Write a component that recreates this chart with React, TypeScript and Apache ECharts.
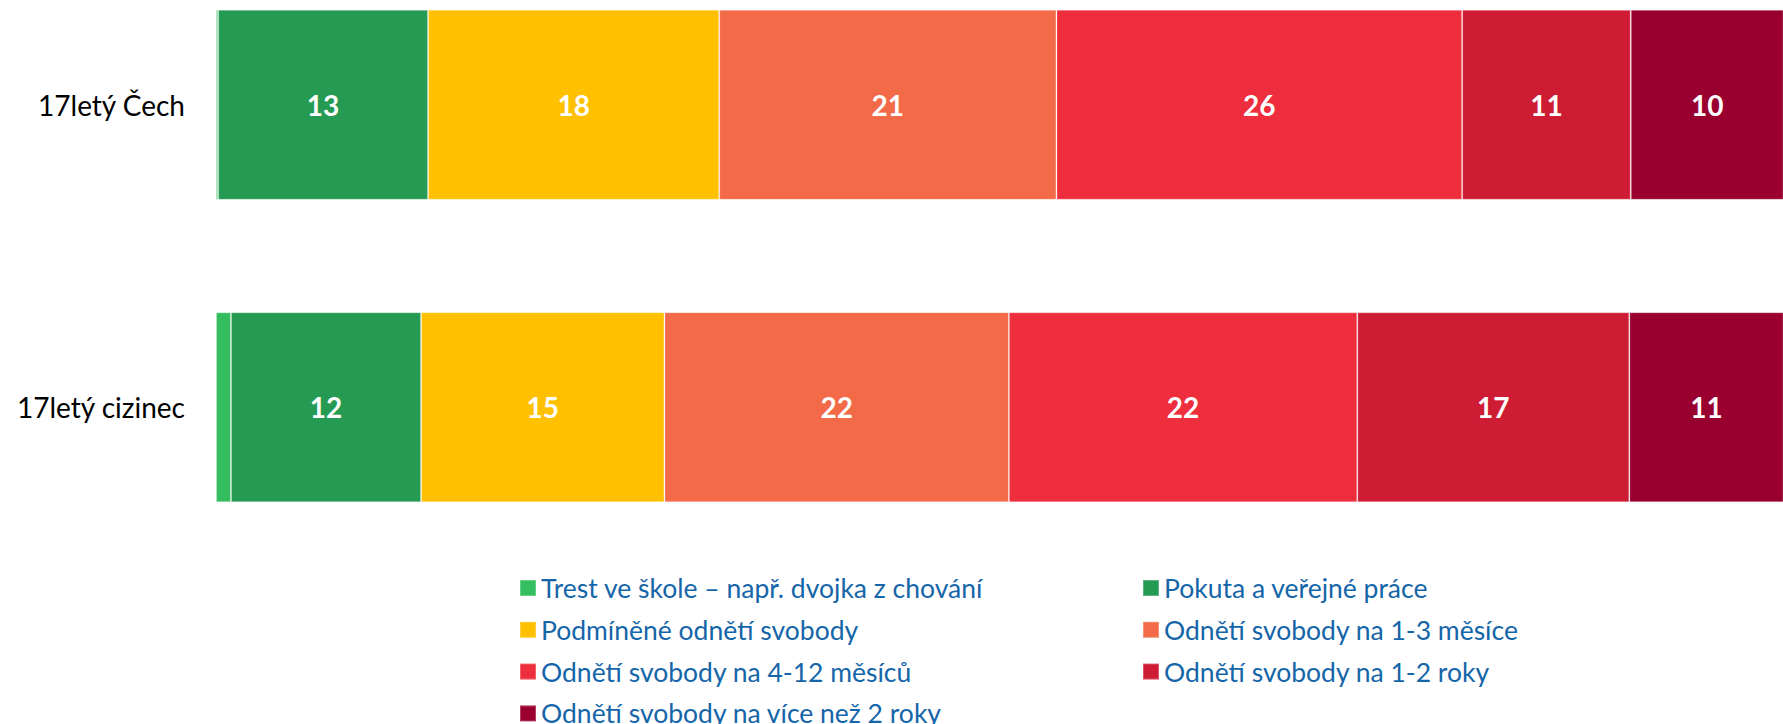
import React, { useEffect, useRef } from "react";
import * as echarts from "echarts";

const categories = ["17letý Čech", "17letý cizinec"];

const seriesNames = [
  "Trest ve škole – např. dvojka z chování",
  "Pokuta a veřejné práce",
  "Podmíněné odnětí svobody",
  "Odnětí svobody na 1-3 měsíce",
  "Odnětí svobody na 4-12 měsíců",
  "Odnětí svobody na 1-2 roky",
  "Odnětí svobody na více než 2 roky",
];

const seriesColors = ["#35BE5F", "#259A52", "#FFC000", "#F26A48", "#EE2E3C", "#CE1C34", "#990030"];

// percent values [17letý Čech, 17letý cizinec]
const trestVeSkole = [0.13, 0.94];
const pokuta = [13.2, 11.95];
const podminene = [18.3, 15.3];
const odneti13m = [21.2, 21.65];
const odneti412m = [25.5, 21.9];
const odneti12r = [10.6, 17.1];
const odnetiVice2r = [10.3, 11.1];

const seriesValues = [trestVeSkole, pokuta, podminene, odneti13m, odneti412m, odneti12r, odnetiVice2r];
const showLabels = [false, true, true, true, true, true, true];

const leftLegend = [seriesNames[0], seriesNames[2], seriesNames[4], seriesNames[6]];
const rightLegend = [seriesNames[1], seriesNames[3], seriesNames[5]];

export default function App() {
  const ref = useRef<HTMLDivElement>(null);
  useEffect(() => {
    if (!ref.current) return;
    const chart = echarts.init(ref.current, undefined, { renderer: "svg" });
    const legendCommon = {
      orient: "vertical" as const,
      icon: "rect",
      itemWidth: 16,
      itemHeight: 16,
      itemGap: 14.8,
      padding: 0,
      height: 200,
      selectedMode: false,
      textStyle: { fontFamily: "Lato", fontSize: 26.5, color: "#1565A9", lineHeight: 24 },
    };
    chart.setOption({
      animation: false,
      backgroundColor: "#ffffff",
      grid: { left: 216, right: 0, top: -46.5, height: 605, containLabel: false, outerBoundsMode: "none" },
      xAxis: { type: "value", min: 0, max: 98.5, show: false },
      yAxis: {
        type: "category",
        data: categories,
        inverse: true,
        axisLine: { show: false },
        axisTick: { show: false },
        axisLabel: { fontFamily: "Lato", fontSize: 28, color: "#000000", margin: 31 },
      },
      legend: [
        { ...legendCommon, data: leftLegend, left: 519, top: 574.5 },
        { ...legendCommon, data: rightLegend, left: 1142, top: 574.5 },
      ],
      series: seriesNames.map((name, i) => ({
        name,
        type: "bar",
        stack: "total",
        barWidth: 190,
        data: seriesValues[i],
        itemStyle: { color: seriesColors[i], borderColor: "rgba(255,255,255,0.25)", borderWidth: 1 },
        label: {
          show: showLabels[i],
          position: "inside",
          color: "#ffffff",
          fontFamily: "Lato",
          fontWeight: "bold",
          fontSize: 28,
          formatter: (p: any) => String(Math.round(p.value)),
        },
      })),
    });
    return () => chart.dispose();
  }, []);
  return (
    <div
      ref={ref}
      style={{ position: "fixed", left: 0, top: 0, width: 1783, height: 724 }}
    />
  );
}
